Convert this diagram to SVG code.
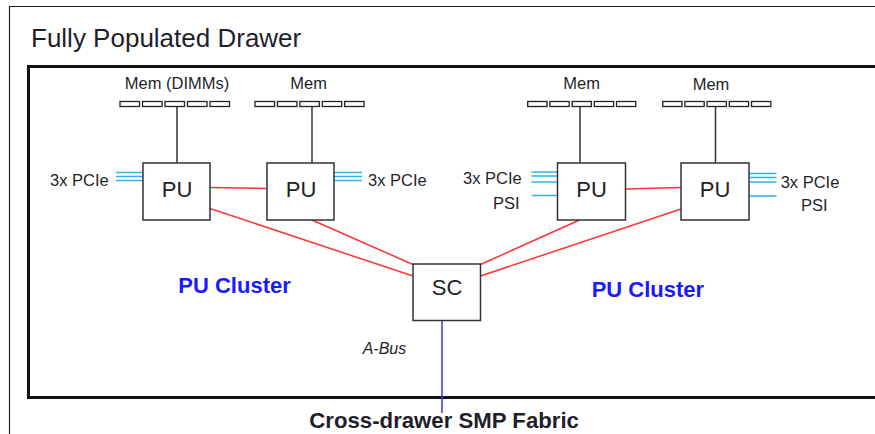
<svg xmlns="http://www.w3.org/2000/svg" width="875" height="434" viewBox="0 0 875 434">
<style>
  text { font-family: "Liberation Sans", Arial, sans-serif; fill: #1f1f2a; }
  .title { font-size: 26px; }
  .lbl { font-size: 16.5px; }
  .box { fill: #ffffff; stroke: #333333; stroke-width: 1.5; }
  .boxtxt { font-size: 22px; text-anchor: middle; fill: #222222; }
  .dimm { fill: #ffffff; stroke: #222222; stroke-width: 1.3; }
  .memline { stroke: #333333; stroke-width: 1.5; fill: none; }
  .red { stroke: #ff3333; stroke-width: 1.5; fill: none; }
  .pcie { stroke: #33b0ea; stroke-width: 1.5; fill: none; }
  .cluster { font-size: 22px; font-weight: bold; fill: #1a1aff; }
  .mid { text-anchor: middle; }
</style>
<rect x="0" y="0" width="875" height="434" fill="#ffffff"/>
<!-- outer frame -->
<path d="M9.5,434 L9.5,6.5 L880,6.5" fill="none" stroke="#222222" stroke-width="1.2"/>
<text class="title" x="31" y="46.5">Fully Populated Drawer</text>
<!-- drawer box -->
<rect x="28.5" y="66.5" width="860" height="331" fill="none" stroke="#111111" stroke-width="3"/>

<g id="connectors">
  <line class="memline" x1="177" y1="106.5" x2="177" y2="163"/>
  <line class="memline" x1="312" y1="106.5" x2="312" y2="163"/>
  <line class="memline" x1="580" y1="106.5" x2="580" y2="163"/>
  <line class="memline" x1="715.5" y1="106.5" x2="715.5" y2="163"/>
  <line class="red" x1="210" y1="187.5" x2="267" y2="188.5"/>
  <line class="red" x1="210" y1="208.5" x2="413" y2="276"/>
  <line class="red" x1="312" y1="220" x2="413" y2="264.5"/>
  <line class="red" x1="480.5" y1="264.5" x2="579.5" y2="220"/>
  <line class="red" x1="480.5" y1="276" x2="681" y2="209"/>
  <line class="red" x1="625.5" y1="189" x2="681" y2="187.5"/>
  <line x1="442" y1="320.5" x2="442" y2="413" stroke="#3333ff" stroke-width="1.5"/>
  <!-- PCIe / PSI -->
  <line class="pcie" x1="116" y1="172.5" x2="143" y2="172.5"/>
  <line class="pcie" x1="116" y1="176.5" x2="143" y2="176.5"/>
  <line class="pcie" x1="116" y1="180.5" x2="143" y2="180.5"/>
  <line class="pcie" x1="334" y1="172.5" x2="362" y2="172.5"/>
  <line class="pcie" x1="334" y1="176.5" x2="362" y2="176.5"/>
  <line class="pcie" x1="334" y1="180.5" x2="362" y2="180.5"/>
  <line class="pcie" x1="531.5" y1="172" x2="557.5" y2="172"/>
  <line class="pcie" x1="531.5" y1="176" x2="557.5" y2="176"/>
  <line class="pcie" x1="531.5" y1="182" x2="557.5" y2="182"/>
  <line class="pcie" x1="532" y1="195.5" x2="557.5" y2="195.5"/>
  <line class="pcie" x1="749" y1="173.5" x2="776.5" y2="173.5"/>
  <line class="pcie" x1="749" y1="177.5" x2="776.5" y2="177.5"/>
  <line class="pcie" x1="749" y1="182" x2="776.5" y2="182"/>
  <line class="pcie" x1="749" y1="196" x2="776.5" y2="196"/>
</g>

<g id="mem1">
  <rect class="dimm" x="120" y="101.5" width="19.5" height="5"/>
  <rect class="dimm" x="142.5" y="101.5" width="19.5" height="5"/>
  <rect class="dimm" x="165" y="101.5" width="19.5" height="5"/>
  <rect class="dimm" x="187.5" y="101.5" width="19.5" height="5"/>
  <rect class="dimm" x="210" y="101.5" width="19.5" height="5"/>
  <text class="lbl mid" x="177" y="89">Mem (DIMMs)</text>
</g>
<g id="mem2">
  <rect class="dimm" x="255" y="101.5" width="19.5" height="5"/>
  <rect class="dimm" x="277.4" y="101.5" width="19.5" height="5"/>
  <rect class="dimm" x="299.8" y="101.5" width="19.5" height="5"/>
  <rect class="dimm" x="322.2" y="101.5" width="19.5" height="5"/>
  <rect class="dimm" x="344.6" y="101.5" width="19.5" height="5"/>
  <text class="lbl mid" x="308.7" y="89">Mem</text>
</g>
<g id="mem3">
  <rect class="dimm" x="527.7" y="101.5" width="19.3" height="5"/>
  <rect class="dimm" x="549.9" y="101.5" width="19.3" height="5"/>
  <rect class="dimm" x="572.1" y="101.5" width="19.3" height="5"/>
  <rect class="dimm" x="594.3" y="101.5" width="19.3" height="5"/>
  <rect class="dimm" x="616.5" y="101.5" width="19.3" height="5"/>
  <text class="lbl mid" x="581.7" y="88.5">Mem</text>
</g>
<g id="mem4">
  <rect class="dimm" x="662.7" y="101.5" width="19.3" height="5"/>
  <rect class="dimm" x="684.9" y="101.5" width="19.3" height="5"/>
  <rect class="dimm" x="707.1" y="101.5" width="19.3" height="5"/>
  <rect class="dimm" x="729.3" y="101.5" width="19.3" height="5"/>
  <rect class="dimm" x="751.5" y="101.5" width="19.3" height="5"/>
  <text class="lbl mid" x="711" y="90">Mem</text>
</g>

<g id="pu1">
  <rect class="box" x="143" y="163" width="67" height="57"/>
  <text class="boxtxt" x="177" y="197">PU</text>
  <text class="lbl" x="50" y="186">3x PCIe</text>
</g>
<g id="pu2">
  <rect class="box" x="267" y="163" width="67" height="57"/>
  <text class="boxtxt" x="301" y="197">PU</text>
  <text class="lbl" x="368" y="186">3x PCIe</text>
</g>
<g id="pu3">
  <rect class="box" x="557.5" y="163" width="68" height="57"/>
  <text class="boxtxt" x="591.5" y="197">PU</text>
  <text class="lbl" x="463" y="184">3x PCIe</text>
  <text class="lbl" x="493" y="209.3">PSI</text>
</g>
<g id="pu4">
  <rect class="box" x="681" y="163" width="68" height="57"/>
  <text class="boxtxt" x="715" y="197">PU</text>
  <text class="lbl" x="780.7" y="187.7">3x PCIe</text>
  <text class="lbl" x="801" y="211">PSI</text>
</g>
<g id="sc">
  <rect class="box" x="413" y="264" width="67.5" height="56.5"/>
  <text class="boxtxt" x="447" y="294.5">SC</text>
</g>

<g id="labels">
  <text class="cluster" x="178.3" y="293">PU Cluster</text>
  <text class="cluster" x="591.7" y="297">PU Cluster</text>
  <text x="362.7" y="354" font-size="16" font-style="italic" fill="#333333">A-Bus</text>
  <text x="309.3" y="428.3" font-size="22.2" font-weight="bold" fill="#111111">Cross-drawer SMP Fabric</text>
</g>
</svg>
